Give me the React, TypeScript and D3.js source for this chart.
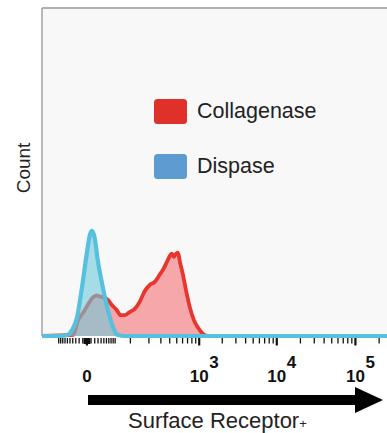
import React from "react";
import * as d3 from "d3";

// Fluorescence histogram (biexponential-style axis), two digestion conditions
const blueSignal = [-106, -46, -30, -21, -13, -6, 0, 3.5, 6, 10, 14.5, 23, 33, 44, 57, 79, 252000];
const blueCount = [0, 0, 1, 6, 18, 47, 80, 97, 101, 94, 73, 47, 25, 9, 1, 0, 0];

const redSignal = [
  -106, -19, -11.6, -4.8, 1.1, 7.4, 13, 17.8, 24.7, 32.6, 41.4, 54, 66, 79, 97, 119, 144, 172, 206, 245,
  289, 330, 364, 402, 428, 457, 487, 519, 553, 607, 667, 755, 854, 966, 1126, 1311, 252000,
];
const redCount = [
  0, 1, 15, 22, 30, 37, 39, 38, 37, 35, 30, 25, 20, 20, 23, 26, 33, 43, 49, 52,
  59, 65, 71, 77, 79, 76, 79, 80, 71, 59, 44, 27, 15, 8, 2, 0, 0,
];

const legendLabels = ["Collagenase", "Dispase"];
const legendColors = ["#e0302a", "#5e9bd0"];

const majorTicks = [0, 1000, 10000, 100000];
const majorLabels = ["0", "10", "10", "10"];
const majorExponents = ["", "3", "4", "5"];

const linearMinor = d3.range(-50, 51, 5).filter((v) => v !== 0);
const logMinor = [100, 1000, 10000, 100000]
  .flatMap((dec) => d3.range(1, 10).map((m) => m * dec))
  .filter((v) => !majorTicks.includes(v) && v <= 250000);

const W = 387;
const H = 433;
const plotLeft = 42;
const plotTop = 8;
const plotBottom = 336;

const FONT = "Arial, 'Liberation Sans', Helvetica, sans-serif";

export default function App() {
  const x = d3.scaleSymlog().constant(39).domain([-106, 251800]).range([plotLeft, W]);
  const y = d3.scaleLinear().domain([0, 315]).range([plotBottom, plotTop]);

  const line = d3
    .line<[number, number]>()
    .x((d) => x(d[0]))
    .y((d) => y(d[1]))
    .curve(d3.curveMonotoneX);
  const area = d3
    .area<[number, number]>()
    .x((d) => x(d[0]))
    .y0(y(0))
    .y1((d) => y(d[1]))
    .curve(d3.curveMonotoneX);

  const red: [number, number][] = redSignal.map((s, i) => [s, redCount[i]]);
  const blue: [number, number][] = blueSignal.map((s, i) => [s, blueCount[i]]);

  return (
    <svg
      width={W}
      height={H}
      style={{ position: "absolute", left: 0, top: 0, background: "#ffffff" }}
      fontFamily={FONT}
    >
      <defs>
        <clipPath id="plot-clip">
          <rect x={plotLeft} y={plotTop} width={W - plotLeft} height={plotBottom - plotTop + 3} />
        </clipPath>
      </defs>

      {/* plot panel */}
      <rect x={plotLeft} y={plotTop} width={W - plotLeft} height={plotBottom - plotTop} fill="#f8f8f8" />
      <line x1={plotLeft} x2={W} y1={plotTop} y2={plotTop} stroke="#b0b0b0" strokeWidth={2} />
      <line x1={plotLeft} x2={plotLeft} y1={plotTop} y2={plotBottom} stroke="#a8a8a8" strokeWidth={1.6} />

      {/* histograms */}
      <g clipPath="url(#plot-clip)">
        <path d={area(red) ?? ""} fill="#f5a7a9" />
        <path d={line(red) ?? ""} fill="none" stroke="#e8362f" strokeWidth={3.8} strokeLinejoin="round" />
        <path d={area(blue) ?? ""} fill="rgb(111,201,218)" fillOpacity={0.6} />
        <path d={line(blue) ?? ""} fill="none" stroke="#55c1de" strokeWidth={4.2} strokeLinejoin="round" />
      </g>

      {/* x-axis ticks */}
      <g stroke="#111">
        {linearMinor.concat(logMinor).map((v) => (
          <line key={"m" + v} x1={x(v)} x2={x(v)} y1={338} y2={343.5} strokeWidth={1.3} />
        ))}
        {majorTicks.map((v) => (
          <line key={"M" + v} x1={x(v)} x2={x(v)} y1={338} y2={345.5} strokeWidth={2.2} />
        ))}
        <rect x={x(-4)} y={338} width={x(4) - x(-4)} height={6} fill="#111" stroke="none" />
      </g>

      {/* tick labels */}
      <g fontWeight="bold" fontSize={17} fill="#111">
        {majorTicks.map((v, i) => (
          <g key={"l" + v}>
            <text x={x(v)} y={382} textAnchor="middle">
              {majorLabels[i]}
            </text>
            {majorExponents[i] && (
              <text x={x(v) + 10} y={368} textAnchor="start">
                {majorExponents[i]}
              </text>
            )}
          </g>
        ))}
      </g>

      {/* direction arrow */}
      <rect x={88} y={395} width={268} height={10} fill="#000" />
      <path d="M355,387 L383,400 L355,413 Z" fill="#000" />

      {/* axis titles */}
      <text x={128} y={428} fontSize={22} fill="#222">
        Surface Receptor<tspan fontSize={13}>+</tspan>
      </text>
      <text transform="translate(30,168) rotate(-90)" textAnchor="middle" fontSize={19} fill="#222">
        Count
      </text>

      {/* legend */}
      {legendLabels.map((lab, i) => (
        <g key={lab} transform={`translate(154,${99 + i * 55})`}>
          <rect x={0} y={0} width={33} height={25} rx={3.5} fill={legendColors[i]} />
          <text x={43} y={18.5} fontSize={21.5} fill="#222">
            {lab}
          </text>
        </g>
      ))}
    </svg>
  );
}
